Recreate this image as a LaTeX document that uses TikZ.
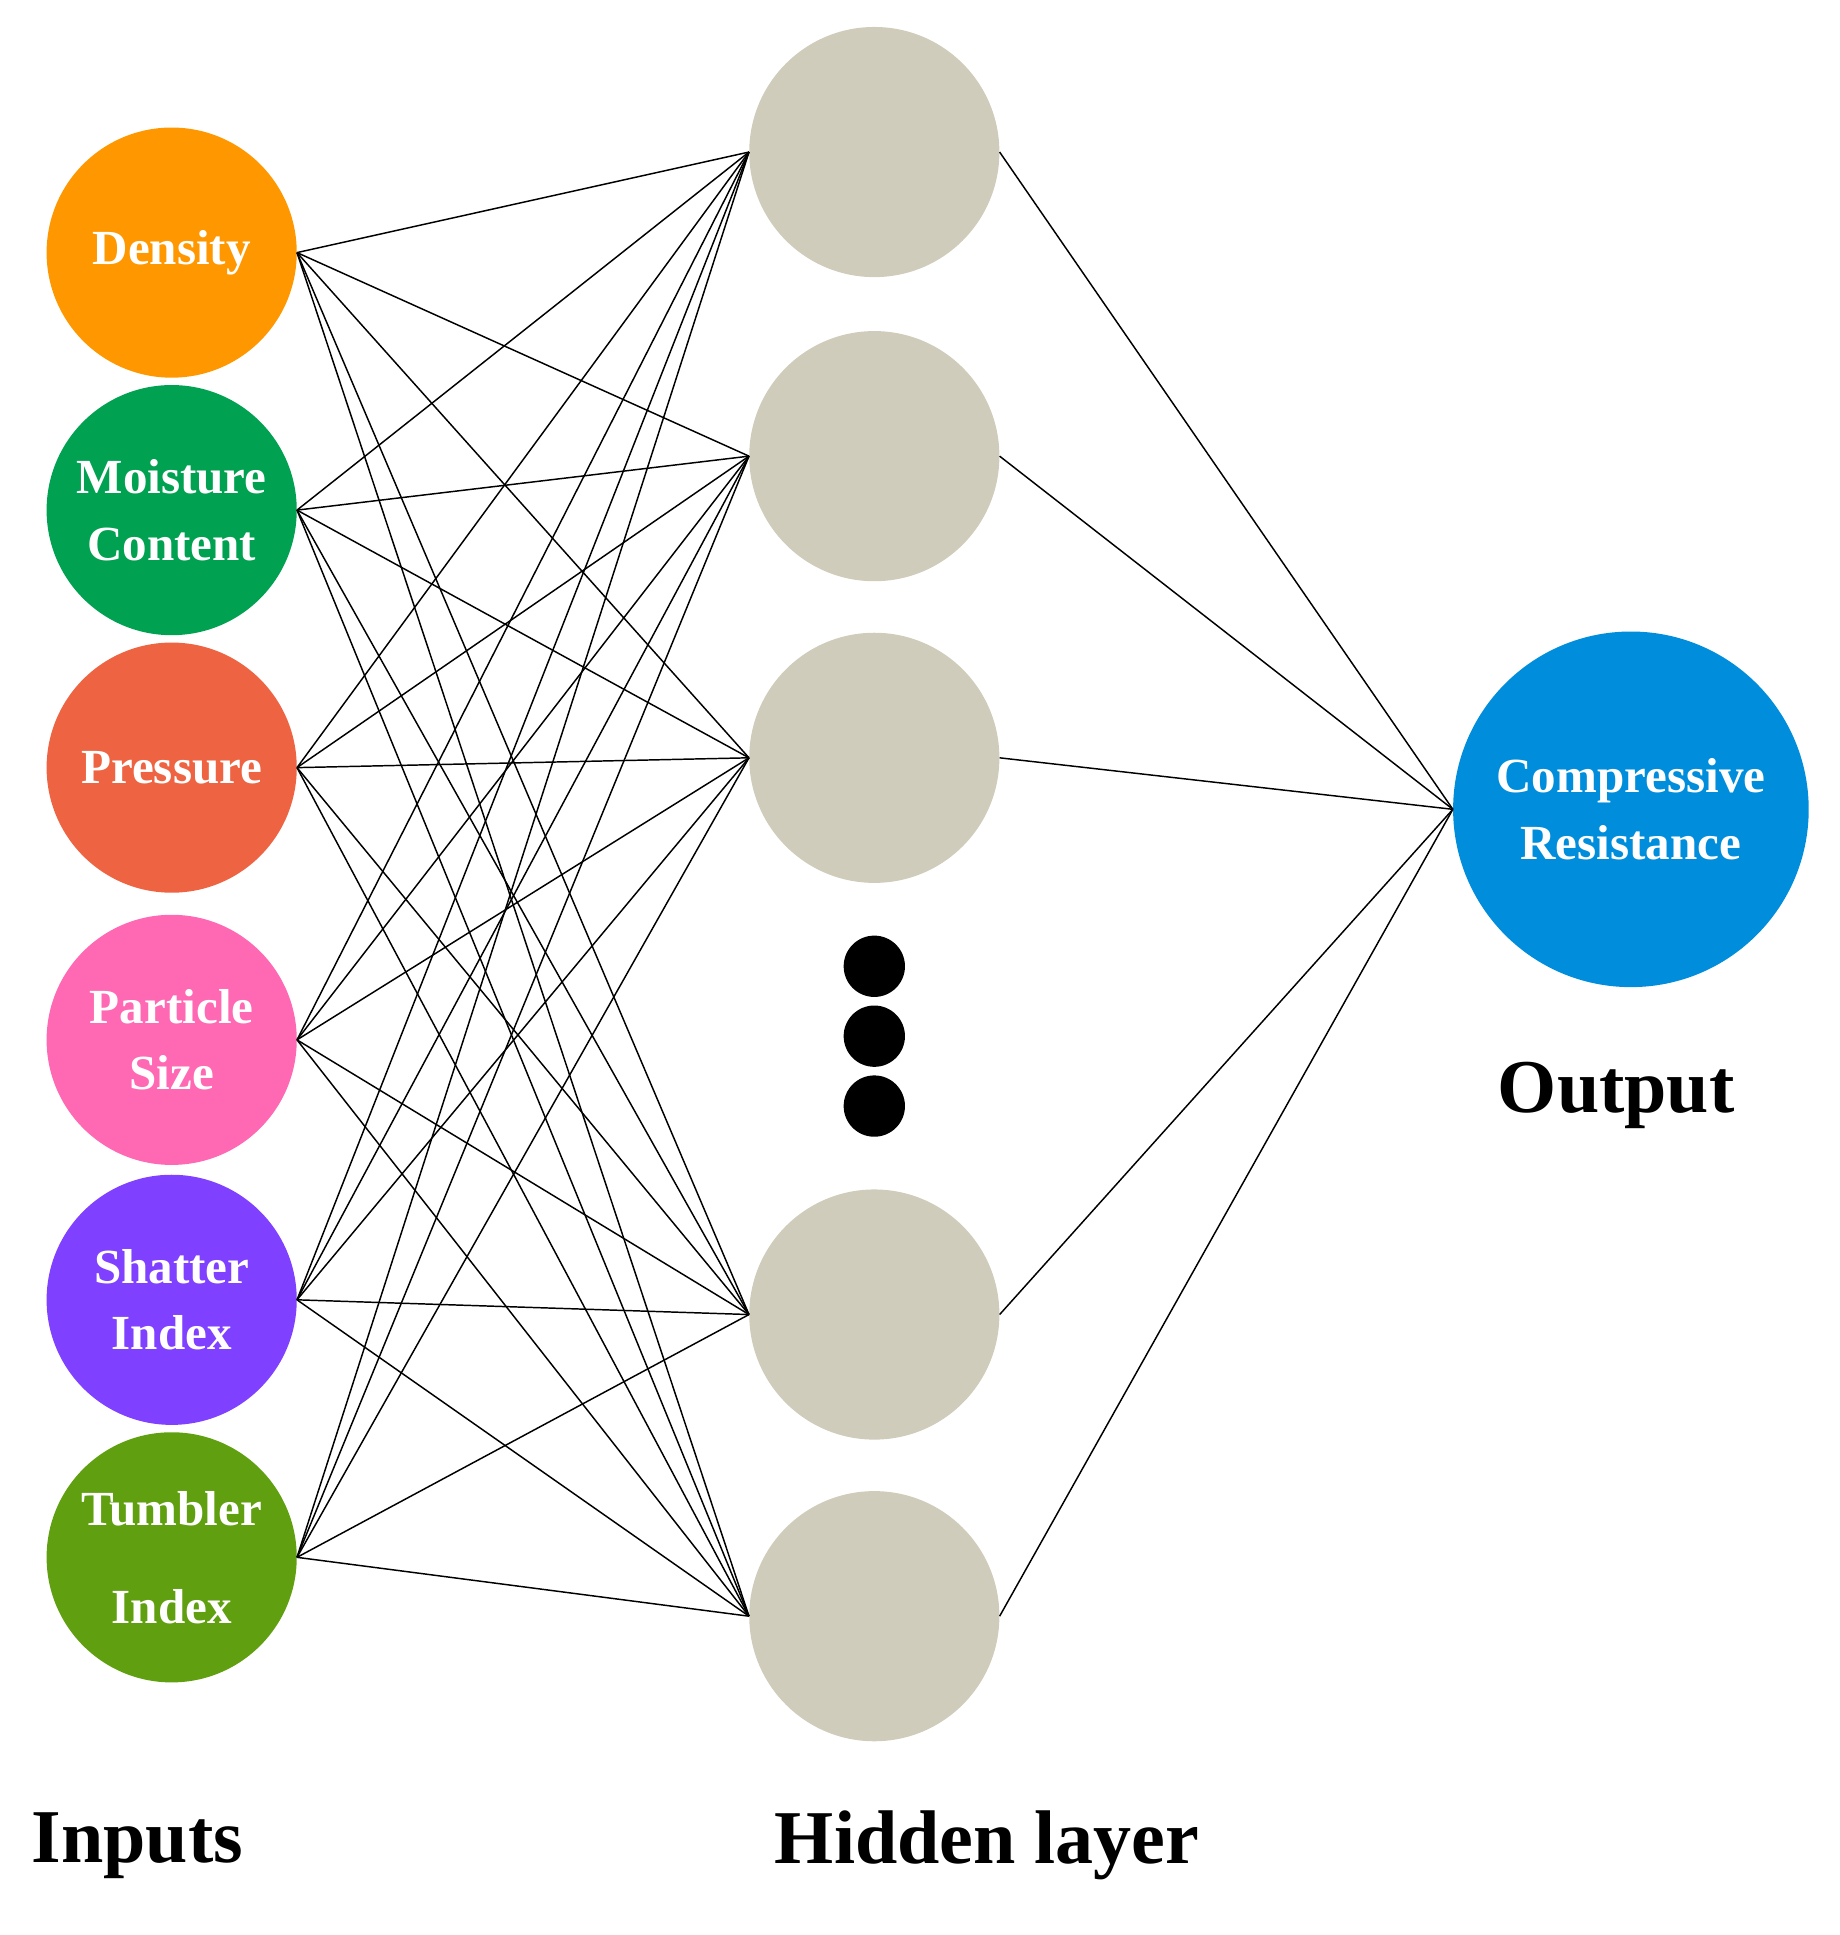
\documentclass[tikz,border=0pt]{standalone}
\usepackage{fontspec}
\setmainfont{Liberation Serif}
\definecolor{cDen}{RGB}{255,152,0}
\definecolor{cMoi}{RGB}{0,161,80}
\definecolor{cPre}{RGB}{238,100,66}
\definecolor{cPar}{RGB}{255,105,180}
\definecolor{cSha}{RGB}{128,64,255}
\definecolor{cTum}{RGB}{96,160,16}
\definecolor{cHid}{RGB}{208,204,187}
\definecolor{cOut}{RGB}{0,142,220}
\begin{document}
\begin{tikzpicture}[x=1pt,y=-1pt,
  inp/.style={circle,minimum size=204pt,inner sep=0pt,text=white,align=center,
    font=\bfseries\fontsize{40}{54}\selectfont},
  hid/.style={circle,minimum size=204pt,inner sep=0pt,fill=cHid},
  link/.style={line width=1.2pt},
  big/.style={font=\bfseries\fontsize{62}{70}\selectfont}]
\useasboundingbox (0,0) rectangle (1500,1578);
% inputs
\node[inp,fill=cDen] (i1) at (140,206) {Density};
\node[inp,fill=cMoi] (i2) at (140,416) {Moisture\\Content};
\node[inp,fill=cPre] (i3) at (140,626) {Pressure};
\node[inp,fill=cPar] (i4) at (140,848) {Particle\\Size};
\node[inp,fill=cSha] (i5) at (140,1060) {Shatter\\Index};
\node[inp,fill=cTum,font=\bfseries\fontsize{40}{80}\selectfont] (i6) at (140,1270) {Tumbler\\Index};
% hidden
\node[hid] (h1) at (713,124) {};
\node[hid] (h2) at (713,372) {};
\node[hid] (h3) at (713,618) {};
\node[hid] (h4) at (713,1072) {};
\node[hid] (h5) at (713,1318) {};
\foreach \y [count=\k] in {788,845,902}
  \node[circle,fill=black,minimum size=50pt,inner sep=0pt] (d\k) at (713,\y) {};
% output
\node[inp,fill=cOut,minimum size=290pt] (o) at (1330,660) {Compressive\\Resistance};
% connectors
\foreach \i in {1,...,6}
  \foreach \h in {1,...,5}
    \draw[link] (i\i.east) -- (h\h.west);
\foreach \h in {1,...,5}
  \draw[link] (h\h.east) -- (o.west);
% captions
\node[big] (li) at (112,1505) {Inputs};
\node[big] (lh) at (805,1505) {Hidden layer};
\node[big] (lo) at (1318,893) {Output};
\end{tikzpicture}
\end{document}
